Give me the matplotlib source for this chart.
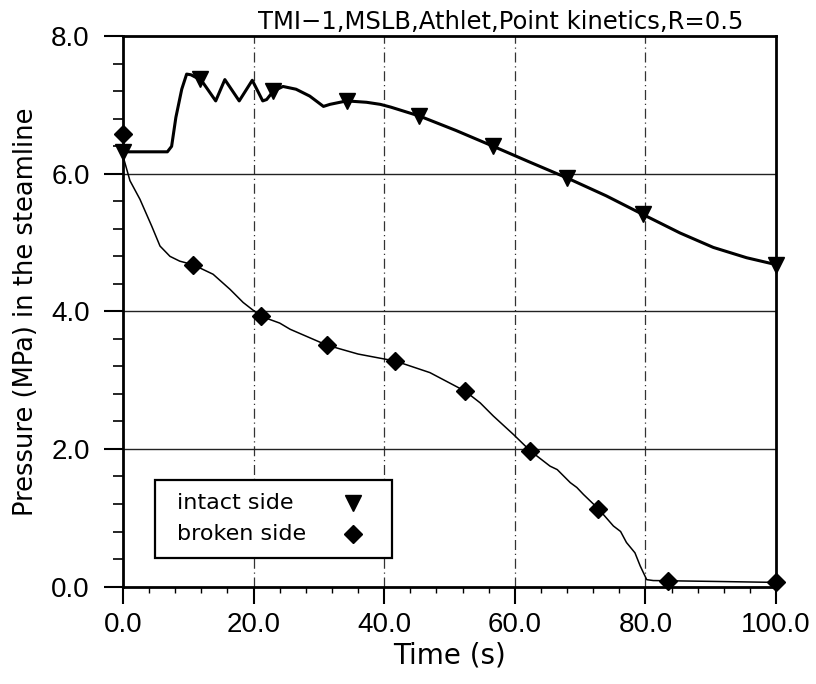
import matplotlib
matplotlib.use("Agg")
import matplotlib.pyplot as plt
from matplotlib.patches import Rectangle
import numpy as np

# ---- data ----
intact_t = [0, 6.8, 7.45, 8.1, 9.0, 9.75, 10.4, 12.0, 14.2, 15.6, 17.8, 19.8, 21.4, 22.0,
            23.0, 24.5, 26.5, 28.6, 30.7, 31.7, 34.25, 37.3, 39.4, 41.0, 45.4, 51.0,
            56.7, 62.3, 68.0, 74.0, 79.6, 85.3, 90.4, 95.5, 100.0]
intact_p = [6.32, 6.32, 6.40, 6.82, 7.23, 7.45, 7.44, 7.36, 7.06, 7.37, 7.06, 7.36, 7.06, 7.08,
            7.20, 7.27, 7.23, 7.13, 6.98, 7.01, 7.06, 7.04, 7.01, 6.97, 6.84, 6.63,
            6.40, 6.17, 5.94, 5.68, 5.41, 5.14, 4.93, 4.78, 4.68]
intact_mt = [0, 11.8, 23.0, 34.3, 45.4, 56.7, 68.0, 79.6, 100.0]
intact_mp = [6.32, 7.38, 7.20, 7.06, 6.84, 6.40, 5.94, 5.41, 4.68]

broken_t = [0, 1.07, 2.6, 4.4, 5.67, 7.2, 8.7, 10.7, 13.8, 16.4, 18.4, 21.1, 24.0, 25.6,
            31.2, 36.0, 39.9, 41.65, 47.0, 52.4, 54.7, 56.7, 59.8, 62.4, 65.4, 66.5,
            68.5, 69.5, 70.5, 72.8, 75.1, 76.2, 77.1, 78.4, 79.2, 80.2, 81.2, 90.0, 100.0]
broken_p = [6.26, 5.90, 5.63, 5.24, 4.95, 4.80, 4.73, 4.68, 4.54, 4.32, 4.13, 3.93, 3.83, 3.74,
            3.51, 3.38, 3.31, 3.28, 3.11, 2.84, 2.67, 2.48, 2.21, 1.97, 1.75, 1.70,
            1.51, 1.44, 1.34, 1.13, 0.88, 0.80, 0.64, 0.49, 0.30, 0.10, 0.087, 0.075, 0.06]
broken_mt = [0, 10.7, 21.1, 31.2, 41.65, 52.4, 62.4, 72.8, 83.5, 100.0]
broken_mp = [6.58, 4.68, 3.93, 3.51, 3.28, 2.84, 1.97, 1.13, 0.087, 0.06]

x_ticks = [0, 20, 40, 60, 80, 100]
x_ticklabels = ["0.0", "20.0", "40.0", "60.0", "80.0", "100.0"]
y_ticks = [0, 2, 4, 6, 8]
y_ticklabels = ["0.0", "2.0", "4.0", "6.0", "8.0"]

legend_labels = ["intact side", "broken side"]
title = "TMI\u22121,MSLB,Athlet,Point kinetics,R=0.5"

# ---- figure ----
fig = plt.figure(figsize=(8.16, 6.84), dpi=100)
ax = fig.add_axes([0.1507, 0.1425, 0.8003, 0.8045])

ax.set_xlim(0, 100)
ax.set_ylim(0, 8)

# grid
for gx in [20, 40, 60, 80]:
    ax.axvline(gx, color="#333333", lw=0.9, ls=(0, (8, 3, 1, 3)), zorder=1)
for gy in [2, 4, 6]:
    ax.axhline(gy, color="#222222", lw=1.0, zorder=1)

ax.plot(intact_t, intact_p, color="black", lw=2.2, zorder=3)
ax.plot(broken_t, broken_p, color="black", lw=1.1, zorder=3)
ax.plot(intact_mt, intact_mp, ls="none", marker="v", ms=11, color="black", zorder=4,
        clip_on=False)
ax.plot(broken_mt, broken_mp, ls="none", marker="D", ms=9, color="black", zorder=4,
        clip_on=False)

ax.set_xticks(x_ticks)
ax.set_xticklabels(x_ticklabels)
ax.set_yticks(y_ticks)
ax.set_yticklabels(y_ticklabels)
ax.set_xticks(np.arange(0, 101, 4), minor=True)
ax.set_yticks(np.arange(0, 8.01, 0.4), minor=True)

ax.tick_params(axis="both", which="major", direction="out", width=1.5, labelsize=20,
               colors="black")
ax.tick_params(axis="y", which="major", length=14, pad=10)
ax.tick_params(axis="x", which="major", length=12, pad=6)
ax.tick_params(axis="y", which="minor", direction="out", length=7, width=1.2)
ax.tick_params(axis="x", which="minor", direction="out", length=4, width=1.0)
for lab in ax.get_xticklabels() + ax.get_yticklabels():
    lab.set_family("Liberation Sans")

for s in ax.spines.values():
    s.set_linewidth(2.0)
    s.set_color("black")

ax.set_xlabel("Time (s)", fontsize=20, family="DejaVu Sans", labelpad=3)
ax.set_ylabel("Pressure (MPa) in the steamline", fontsize=18.5, family="DejaVu Sans",
              labelpad=9)
ax.set_title(title, fontsize=17.5, family="DejaVu Sans", x=0.579, pad=5)

# legend box (text left-aligned, markers on the right, as in the original)
ax.add_patch(Rectangle((0.049, 0.051), 0.363, 0.142, transform=ax.transAxes,
                       facecolor="white", edgecolor="black", lw=1.6, zorder=5))
leg_y = [0.151, 0.096]
leg_markers = ["v", "D"]
leg_ms = [11, 9]
for lab, yy, mk, ms in zip(legend_labels, leg_y, leg_markers, leg_ms):
    ax.text(0.083, yy, lab, transform=ax.transAxes, fontsize=16, family="DejaVu Sans",
            va="center", ha="left", zorder=6)
    ax.plot([0.352], [yy], transform=ax.transAxes, marker=mk, ms=ms, color="black",
            ls="none", zorder=6, clip_on=False)

fig.savefig("out.png", dpi=100)
